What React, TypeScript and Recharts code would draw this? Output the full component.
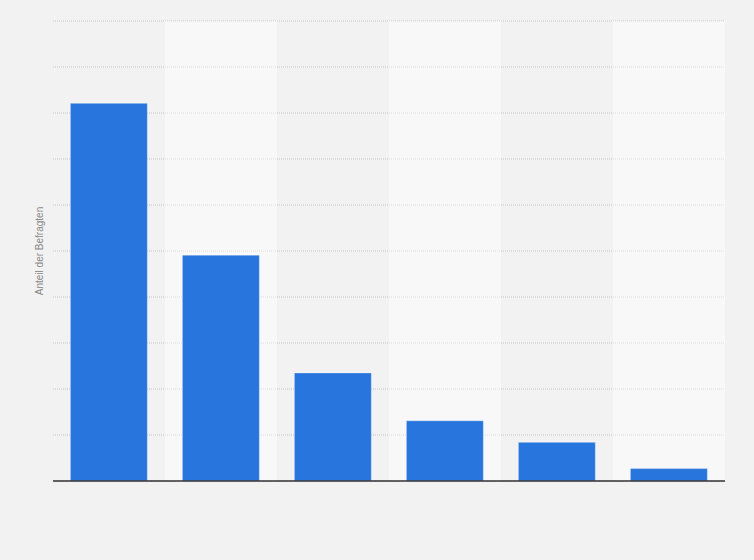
import React from 'react';
import { BarChart, Bar, XAxis, YAxis, ReferenceArea, ReferenceLine, CartesianGrid } from 'recharts';

const categories = ['Kategorie 1', 'Kategorie 2', 'Kategorie 3', 'Kategorie 4', 'Kategorie 5', 'Kategorie 6'];
const shares = [82.1, 49.1, 23.5, 13.1, 8.4, 2.7];
const yTicks = [0, 10, 20, 30, 40, 50, 60, 70, 80, 90, 100];
const yLabel = 'Anteil der Befragten';

const data = categories.map((c, i) => ({ name: c, value: shares[i] }));

const NoTick = () => null;

export default function App() {
  return (
    <div style={{ position: 'absolute', left: 0, top: 0, width: 754, height: 560, background: '#f2f2f2', fontFamily: '"Liberation Sans", Arial, sans-serif' }}>
      <BarChart
        width={754}
        height={560}
        data={data}
        margin={{ top: 21, right: 29, bottom: 79, left: 0 }}
        barCategoryGap="15.5%"
      >
        <XAxis dataKey="name" hide />
        <YAxis
          domain={[0, 100]}
          ticks={yTicks}
          tick={<NoTick />}
          tickLine={false}
          axisLine={false}
          width={53}
          label={{ value: yLabel, angle: -90, position: 'center', dx: 13, fill: '#888888', fontSize: 10 }}
        />
        {categories.map((c, i) =>
          i % 2 === 1 ? (
            <ReferenceArea key={c} x1={c} x2={c} y1={0} y2={100} fill="#ffffff" fillOpacity={0.45} strokeOpacity={0} ifOverflow="visible" />
          ) : null
        )}
        <CartesianGrid vertical={false} stroke="#c4c4c4" strokeDasharray="1 1" />
        <Bar dataKey="value" fill="#2876dd" stroke="#ffffff" strokeOpacity={0.35} strokeWidth={1} isAnimationActive={false} />
        <ReferenceLine y={0} stroke="#333333" strokeWidth={1.5} ifOverflow="visible" />
      </BarChart>
    </div>
  );
}
